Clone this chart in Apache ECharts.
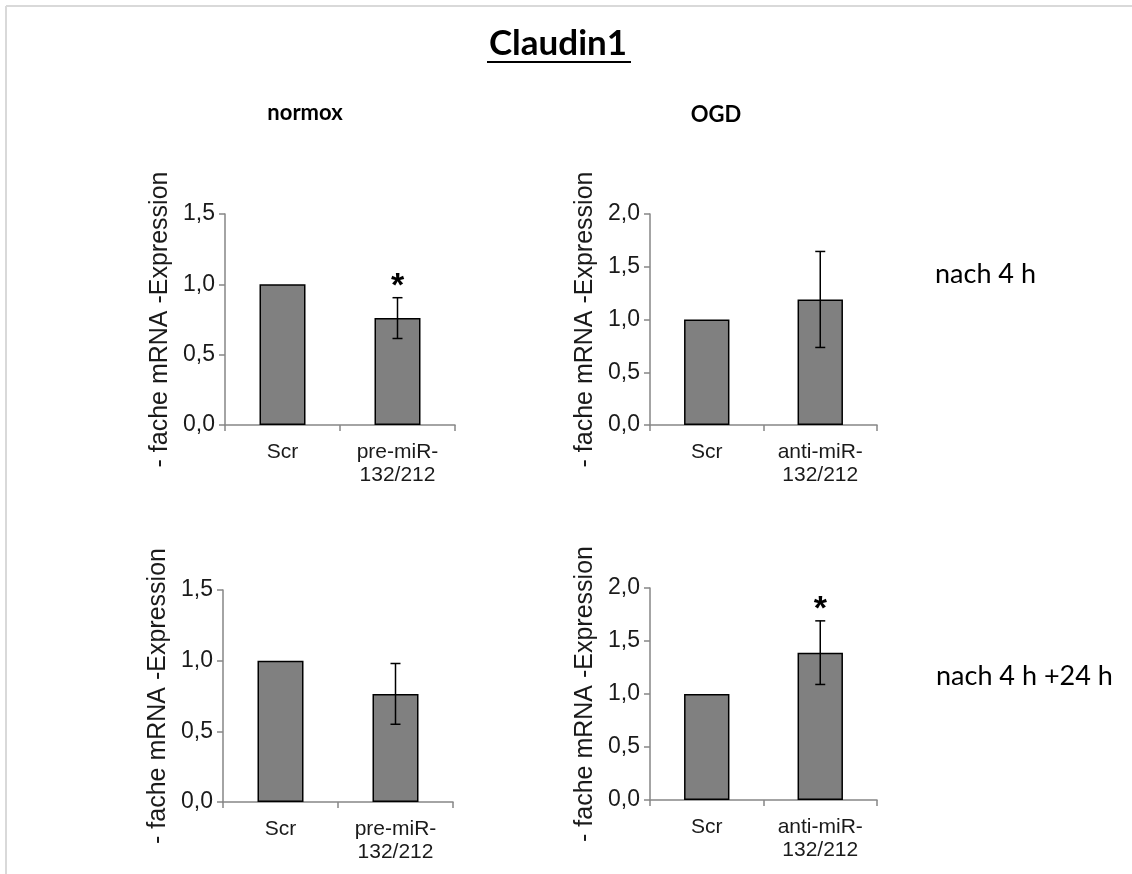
<!DOCTYPE html>
<html>
<head>
<meta charset="utf-8">
<script src="https://cdn.jsdelivr.net/npm/echarts@6/dist/echarts.min.js"></script>
<style>
  html, body { margin: 0; padding: 0; background: #fff; }
  #chart { width: 1132px; height: 874px; }
</style>
</head>
<body>
<div id="chart"></div>
<script>
// Claudin1 fold expression: normoxia vs OGD, after 4 h and after 4 h + 24 h
const categoriesNormox = ['Scr', 'pre-miR-\n132/212'];
const categoriesOGD = ['Scr', 'anti-miR-\n132/212'];

const normox4h = [1.0, 0.76];
const normox4hErr = [0, 0.145];
const normox4hSig = [false, true];

const ogd4h = [1.0, 1.19];
const ogd4hErr = [0, 0.455];
const ogd4hSig = [false, false];

const normox24h = [1.0, 0.765];
const normox24hErr = [0, 0.215];
const normox24hSig = [false, false];

const ogd24h = [1.0, 1.39];
const ogd24hErr = [0, 0.30];
const ogd24hSig = [false, true];

const yMaxNormox = 1.5;
const yMaxOGD = 2.0;
const yInterval = 0.5;

const yAxisName = '- fache mRNA -Expression';
const mainTitle = 'Claudin1';
const colTitles = ['normox', 'OGD'];
const rowTitles = ['nach 4 h', 'nach 4 h +24 h'];

const panels = [
  { cats: categoriesNormox, vals: normox4h, err: normox4hErr, sig: normox4hSig, max: yMaxNormox,
    grid: { left: 225, top: 214, width: 230, height: 211 } },
  { cats: categoriesOGD, vals: ogd4h, err: ogd4hErr, sig: ogd4hSig, max: yMaxOGD,
    grid: { left: 650, top: 214, width: 227, height: 211 } },
  { cats: categoriesNormox, vals: normox24h, err: normox24hErr, sig: normox24hSig, max: yMaxNormox,
    grid: { left: 223, top: 590, width: 230, height: 212 } },
  { cats: categoriesOGD, vals: ogd24h, err: ogd24hErr, sig: ogd24hSig, max: yMaxOGD,
    grid: { left: 650, top: 588, width: 227, height: 212 } }
];

const axisGrey = '#868686';
const textColor = '#1a1a1a';
const labelFont = '"Liberation Sans", Arial, sans-serif';
const headFont = 'Lato, "Open Sans", sans-serif';

const grids = [], xAxes = [], yAxes = [], series = [];

panels.forEach((p, i) => {
  grids.push(Object.assign({ containLabel: false }, p.grid));
  xAxes.push({
    type: 'category',
    gridIndex: i,
    data: p.cats,
    boundaryGap: true,
    axisLine: { lineStyle: { color: axisGrey, width: 1.5 } },
    axisTick: { show: true, inside: false, length: 6, lineStyle: { color: axisGrey, width: 1.5 } },
    axisLabel: {
      interval: 0, margin: 16, color: textColor,
      fontFamily: labelFont, fontSize: 21, lineHeight: 23
    }
  });
  yAxes.push({
    type: 'value',
    gridIndex: i,
    min: 0, max: p.max, interval: yInterval,
    name: yAxisName,
    nameLocation: 'middle',
    nameRotate: 90,
    nameGap: 52,
    nameTextStyle: { fontFamily: labelFont, fontSize: 25, color: textColor },
    splitLine: { show: false },
    axisLine: { show: true, lineStyle: { color: axisGrey, width: 1.5 } },
    axisTick: { show: true, inside: false, length: 6, lineStyle: { color: axisGrey, width: 1.5 } },
    axisLabel: {
      margin: 10, color: textColor, fontFamily: labelFont, fontSize: 23,
      formatter: v => v.toFixed(1).replace('.', ',')
    }
  });
  series.push({
    type: 'bar',
    xAxisIndex: i, yAxisIndex: i,
    data: p.vals,
    barWidth: '40%',
    itemStyle: { color: '#808080', borderColor: '#000', borderWidth: 1.5 },
    silent: true
  });
  // error bars (mean ± SD) with significance asterisk
  series.push({
    type: 'custom',
    xAxisIndex: i, yAxisIndex: i,
    data: p.vals.map((v, k) => [k, v, p.err[k], p.sig[k] ? 1 : 0]),
    z: 5,
    silent: true,
    renderItem: (params, api) => {
      const k = api.value(0), v = api.value(1), e = api.value(2), s = api.value(3);
      const children = [];
      const hi = api.coord([k, v + e]);
      const lo = api.coord([k, v - e]);
      const cap = 5;
      const st = { stroke: '#000', lineWidth: 1.5 };
      if (e > 0) {
        children.push({ type: 'line', shape: { x1: hi[0], y1: hi[1], x2: lo[0], y2: lo[1] }, style: st });
        children.push({ type: 'line', shape: { x1: hi[0] - cap, y1: hi[1], x2: hi[0] + cap, y2: hi[1] }, style: st });
        children.push({ type: 'line', shape: { x1: lo[0] - cap, y1: lo[1], x2: lo[0] + cap, y2: lo[1] }, style: st });
      }
      if (s) {
        children.push({
          type: 'text',
          style: {
            text: '*', x: hi[0], y: hi[1] - 11,
            align: 'center', verticalAlign: 'middle',
            font: 'bold 34px "Liberation Sans", Arial, sans-serif', fill: '#000'
          }
        });
      }
      return { type: 'group', children };
    }
  });
});

const chart = echarts.init(document.getElementById('chart'), null, { renderer: 'canvas' });
chart.setOption({
  backgroundColor: '#ffffff',
  animation: false,
  grid: grids,
  xAxis: xAxes,
  yAxis: yAxes,
  series: series,
  graphic: [
    // light frame along top and left edges
    { type: 'line', shape: { x1: 6, y1: 6, x2: 1132, y2: 6 }, style: { stroke: '#d9d9d9', lineWidth: 2 } },
    { type: 'line', shape: { x1: 6, y1: 6, x2: 6, y2: 874 }, style: { stroke: '#d9d9d9', lineWidth: 2 } },
    // main heading with underline
    { type: 'text', x: 558, y: 44, style: { text: mainTitle, align: 'center', verticalAlign: 'middle',
      font: 'bold 35px ' + headFont, fill: '#000' } },
    { type: 'line', shape: { x1: 487, y1: 62, x2: 631, y2: 62 }, style: { stroke: '#000', lineWidth: 2 } },
    // column headings
    { type: 'text', x: 305, y: 113, style: { text: colTitles[0], align: 'center', verticalAlign: 'middle',
      font: 'bold 22px ' + headFont, fill: '#000' } },
    { type: 'text', x: 716, y: 115, style: { text: colTitles[1], align: 'center', verticalAlign: 'middle',
      font: 'bold 22px ' + headFont, fill: '#000' } },
    // row headings
    { type: 'text', x: 935, y: 274, style: { text: rowTitles[0], align: 'left', verticalAlign: 'middle',
      font: '27px ' + headFont, fill: '#000' } },
    { type: 'text', x: 936, y: 676, style: { text: rowTitles[1], align: 'left', verticalAlign: 'middle',
      font: '27px ' + headFont, fill: '#000' } }
  ]
});
</script>
</body>
</html>
